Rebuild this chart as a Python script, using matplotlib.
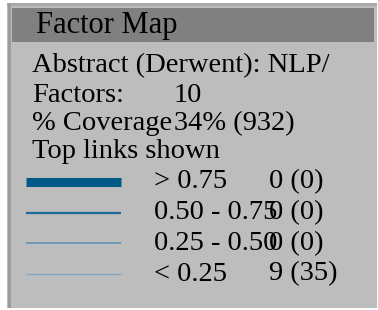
import matplotlib
matplotlib.use("Agg")
import matplotlib.pyplot as plt
import matplotlib.patches as patches

# Panel content
title = "Factor Map"
source_label = "Abstract (Derwent): NLP/"
info_labels = ["Factors:", "% Coverage"]
info_values = ["10", "34% (932)"]
legend_heading = "Top links shown"
range_labels = ["> 0.75", "0.50 - 0.75", "0.25 - 0.50", "< 0.25"]
link_counts = ["0 (0)", "0 (0)", "0 (0)", "9 (35)"]
line_widths = [6.5, 1.6, 1.1, 0.9]
line_colors = ["#005a87", "#1b6a97", "#5a8fb0", "#7ea7c1"]

W, H = 378, 310
fig = plt.figure(figsize=(W / 100, H / 100), dpi=100)
ax = fig.add_axes([0, 0, 1, 1])
ax.set_xlim(0, W)
ax.set_ylim(H, 0)
ax.axis("off")

font = "Liberation Serif"
fs = 20.5
bg = "#bdbdbd"

# Panel frame
ax.add_patch(patches.Rectangle((7, 3), 370, 305, facecolor=bg, edgecolor="none"))
ax.add_patch(patches.Rectangle((7, 2.5), 370, 3, facecolor="#a9a9a9", edgecolor="none"))
ax.add_patch(patches.Rectangle((8, 3), 2.5, 305, facecolor="#9c9c9c", edgecolor="none"))
ax.add_patch(patches.Rectangle((12, 8), 362, 34, facecolor="#808080", edgecolor="none"))

ax.text(36, 25, title, fontsize=22, family=font, ha="left", va="center", color="black")

# Info lines
ax.text(32, 66, source_label, fontsize=fs, family=font, ha="left", va="center")

y0, dy = 95, 28.5
for i, (lab, val) in enumerate(zip(info_labels, info_values)):
    y = y0 + i * dy
    ax.text(32, y, lab, fontsize=fs, family=font, ha="left", va="center")
    ax.text(174, y, val, fontsize=fs, family=font, ha="left", va="center")

ax.text(32, 151, legend_heading, fontsize=fs, family=font, ha="left", va="center")

# Legend rows
ly0, ldy = 182, 30.7
for i, (lab, cnt, lw, col) in enumerate(zip(range_labels, link_counts, line_widths, line_colors)):
    y = ly0 + i * ldy
    ax.plot([26, 121], [y, y], color=col, lw=lw, solid_capstyle="butt")
    ax.text(154, y, lab, fontsize=fs, family=font, ha="left", va="center")
    ax.text(269, y, cnt, fontsize=fs, family=font, ha="left", va="center")

fig.savefig("out.png", dpi=100, facecolor="white")
plt.close(fig)
